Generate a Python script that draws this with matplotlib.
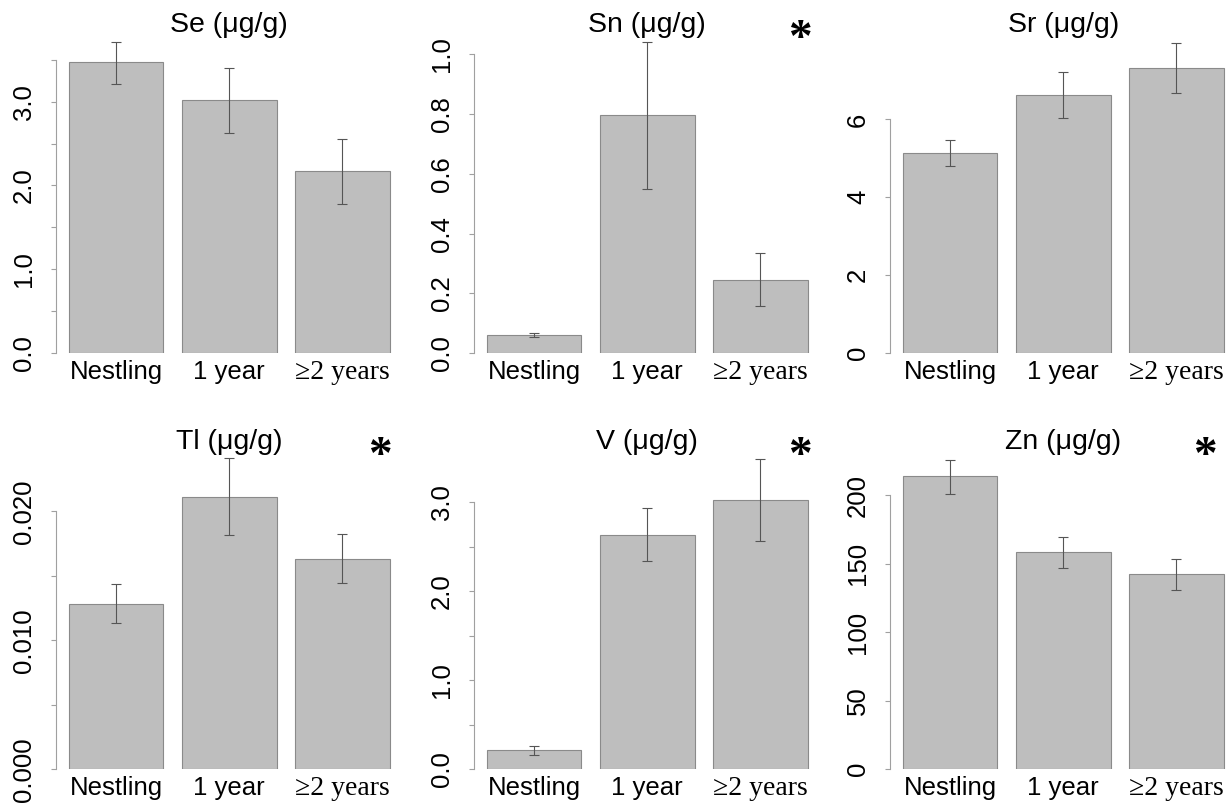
import matplotlib
matplotlib.use("Agg")
import matplotlib.pyplot as plt

plt.rcParams["font.family"] = ["Liberation Sans", "DejaVu Sans"]

# ======================
# DATA
# ======================
groups = ["Nestling", "1 year", "\u22652 years"]

se_mean = [3.47, 3.02, 2.17]
se_lo = [3.21, 2.63, 1.78]
se_hi = [3.71, 3.40, 2.56]

sn_mean = [0.060, 0.796, 0.244]
sn_lo = [0.055, 0.550, 0.157]
sn_hi = [0.066, 1.040, 0.334]

sr_mean = [5.13, 6.62, 7.33]
sr_lo = [4.79, 6.03, 6.69]
sr_hi = [5.48, 7.22, 7.97]

tl_mean = [0.01286, 0.02112, 0.01635]
tl_lo = [0.01133, 0.01814, 0.01446]
tl_hi = [0.01441, 0.02411, 0.01824]

v_mean = [0.214, 2.635, 3.03]
v_lo = [0.157, 2.34, 2.565]
v_hi = [0.262, 2.935, 3.49]

zn_mean = [214, 158.4, 142.3]
zn_lo = [201, 147.2, 130.7]
zn_hi = [226, 169.8, 153.5]

se_ticks = [0, 0.5, 1.0, 1.5, 2.0, 2.5, 3.0, 3.5]
se_labels = ["0.0", "", "1.0", "", "2.0", "", "3.0", ""]
sn_ticks = [0, 0.2, 0.4, 0.6, 0.8, 1.0]
sn_labels = ["0.0", "0.2", "0.4", "0.6", "0.8", "1.0"]
sr_ticks = [0, 2, 4, 6]
sr_labels = ["0", "2", "4", "6"]
tl_ticks = [0, 0.005, 0.010, 0.015, 0.020]
tl_labels = ["0.000", "", "0.010", "", "0.020"]
v_ticks = [0, 0.5, 1.0, 1.5, 2.0, 2.5, 3.0]
v_labels = ["0.0", "", "1.0", "", "2.0", "", "3.0"]
zn_ticks = [0, 50, 100, 150, 200]
zn_labels = ["0", "50", "100", "150", "200"]

panels = [
    ("Se", se_mean, se_lo, se_hi, se_ticks, se_labels, 3.76, False),
    ("Sn", sn_mean, sn_lo, sn_hi, sn_ticks, sn_labels, 1.055, True),
    ("Sr", sr_mean, sr_lo, sr_hi, sr_ticks, sr_labels, 8.09, False),
    ("Tl", tl_mean, tl_lo, tl_hi, tl_ticks, tl_labels, 0.02438, True),
    ("V", v_mean, v_lo, v_hi, v_ticks, v_labels, 3.53, True),
    ("Zn", zn_mean, zn_lo, zn_hi, zn_ticks, zn_labels, 229.4, True),
]

# ======================
# LAYOUT (pixel based, 1230 x 807)
# ======================
W, H = 1230, 807
fig = plt.figure(figsize=(W / 100, H / 100), dpi=100)

col_left = [56, 474, 890]
row_top = [38, 455]
row_bottom = [353, 769.3]
ax_w = 346.5

x = [0, 1, 2]
star_x = [2.33, 2.35, 2.25]

for i, (elem, mean, lo, hi, ticks, labels, ymax, star) in enumerate(panels):
    r, c = divmod(i, 3)
    ax = fig.add_axes([col_left[c] / W, 1 - row_bottom[r] / H,
                       ax_w / W, (row_bottom[r] - row_top[r]) / H])

    ax.bar(x, mean, width=0.835, color="#bebebe", edgecolor="#8a8a8a",
           linewidth=0.8, zorder=2)
    yerr = [[m - l for m, l in zip(mean, lo)], [h - m for m, h in zip(mean, hi)]]
    ax.errorbar(x, mean, yerr=yerr, fmt="none", ecolor="#555555",
                elinewidth=0.8, capsize=3.6, capthick=0.8, zorder=3,
                clip_on=False)

    ax.set_xlim(-0.53, 2.53)
    ax.set_ylim(0, ymax)

    for s in ["top", "right", "bottom"]:
        ax.spines[s].set_visible(False)
    ax.spines["left"].set_bounds(ticks[0], ticks[-1])
    ax.spines["left"].set_color("#a0a0a0")
    ax.spines["left"].set_linewidth(0.8)

    ax.set_yticks(ticks)
    ax.set_yticklabels(labels, rotation=90, va="center")
    ax.tick_params(axis="y", length=3.3, width=0.8, color="#a0a0a0",
                   pad=11, labelsize=18.5)

    ax.set_xticks(x)
    ax.set_xticklabels(groups)
    ax.tick_params(axis="x", length=0, pad=5, labelsize=18.5)
    ax.get_xticklabels()[2].set_fontfamily("Liberation Serif")
    ax.get_xticklabels()[2].set_fontsize(20)

    ax.set_title(elem + " (\u03bcg/g)", fontsize=20.5, pad=4)
    if star:
        ax.text(star_x[c], 0.995, "*", transform=ax.get_xaxis_transform(),
                ha="center", va="center", fontsize=34, fontweight="bold",
                family="Liberation Serif")

fig.savefig("out.png", dpi=100)
